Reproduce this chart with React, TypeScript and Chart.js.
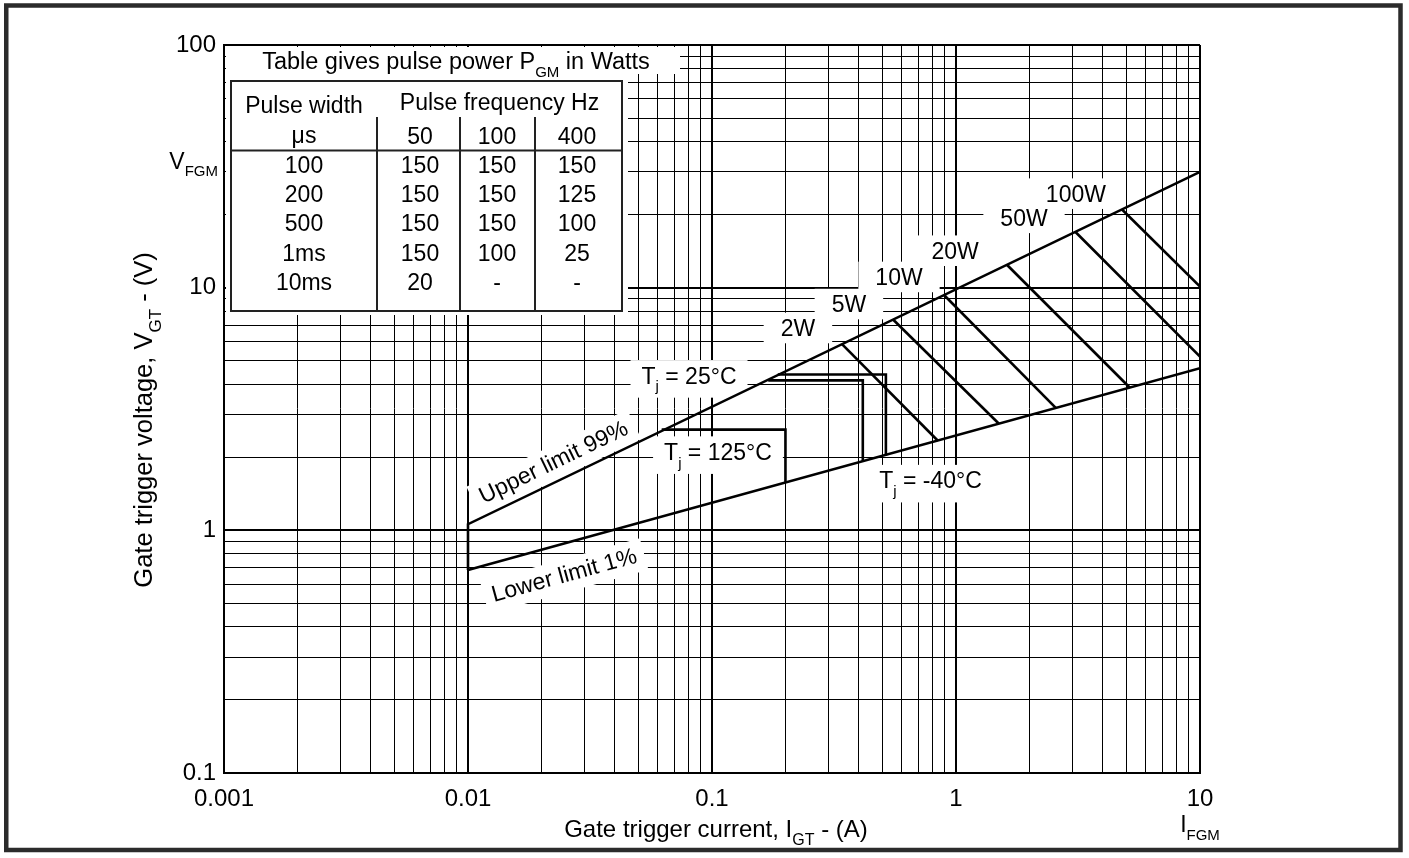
import React, { useEffect, useRef } from 'react';
import { Chart, registerables } from 'chart.js';

Chart.register(...registerables);

// ---------- axes ----------
const X_DECADES = [0.001, 0.01, 0.1, 1, 10];
const X_TICK_LABELS = ['0.001', '0.01', '0.1', '1', '10'];
const Y_DECADES = [0.1, 1, 10, 100];
const Y_TICK_LABELS = ['0.1', '1', '10', '100'];
const MINOR_STEPS = [2, 3, 4, 5, 6, 7, 8, 9];

// ---------- gate trigger limits (I in A, V in V) ----------
const UPPER_I = [0.01, 0.01, 10];
const UPPER_V = [0.686, 1.06, 30];
const LOWER_I = [0.01, 10];
const LOWER_V = [0.686, 4.66];

// ---------- temperature boxes ----------
const TJ125_I = [0.0622, 0.2, 0.2];
const TJ125_V = [2.6, 2.6, 1.57];
const TJ25_I = [0.17, 0.415, 0.415];
const TJ25_V = [4.15, 4.15, 1.92];
const TJM40_I = [0.186, 0.516, 0.516];
const TJM40_V = [4.39, 4.39, 2.03];

// ---------- pulse power lines ----------
const POWER_LABELS = ['2W', '5W', '10W', '20W', '50W', '100W'];
const POWER_I_START = [0.341, 0.552, 0.893, 1.62, 3.08, 4.79];
const POWER_V_START = [5.85, 7.39, 9.33, 12.4, 17.0, 21.0];
const POWER_I_END = [0.843, 1.5, 2.57, 5.16, 10, 10];
const POWER_V_END = [2.34, 2.75, 3.19, 3.87, 5.2, 10.1];
const POWER_LABEL_I = [0.225, 0.364, 0.584, 0.991, 1.9, 3.1];
const POWER_LABEL_V = [6.82, 8.56, 11.07, 14.2, 19.4, 24.4];

// ---------- annotation anchors (data coordinates) ----------
const TJ_LABELS = ['25°C', '125°C', '-40°C'];
const TJ_LABEL_I = [0.0805, 0.1058, 0.786];
const TJ_LABEL_V = [4.35, 2.11, 1.61];
const UPPER_LABEL = 'Upper limit 99%';
const UPPER_LABEL_AT = [0.0223, 1.93];
const LOWER_LABEL = 'Lower limit 1%';
const LOWER_LABEL_AT = [0.0247, 0.66];
const VFGM_LEVEL = 33;
const IFGM_LEVEL = 10;

// ---------- table ----------
const PULSE_WIDTHS = ['100', '200', '500', '1ms', '10ms'];
const PULSE_FREQS = ['50', '100', '400'];
const P_50HZ = ['150', '150', '150', '150', '20'];
const P_100HZ = ['150', '150', '150', '100', '-'];
const P_400HZ = ['150', '125', '100', '25', '-'];

const FAMILY = '"Liberation Sans", Arial, Helvetica, sans-serif';
const font = (s: number) => `${s}px ${FAMILY}`;

type Part = { t: string; sub?: boolean };

function richWidth(ctx: CanvasRenderingContext2D, parts: Part[], size: number) {
  let w = 0;
  parts.forEach((p) => {
    ctx.font = font(p.sub ? Math.round(size * 0.65) : size);
    w += ctx.measureText(p.t).width;
  });
  return w;
}

// y = baseline
function drawRich(
  ctx: CanvasRenderingContext2D,
  parts: Part[],
  x: number,
  y: number,
  size: number,
  align: 'left' | 'center' | 'right'
) {
  const total = richWidth(ctx, parts, size);
  let cx = align === 'left' ? x : align === 'center' ? x - total / 2 : x - total;
  ctx.textAlign = 'left';
  ctx.textBaseline = 'alphabetic';
  parts.forEach((p) => {
    const s = p.sub ? Math.round(size * 0.65) : size;
    ctx.font = font(s);
    ctx.fillText(p.t, cx, y + (p.sub ? size * 0.33 : 0));
    cx += ctx.measureText(p.t).width;
  });
  return total;
}

function boxedLabel(
  ctx: CanvasRenderingContext2D,
  parts: Part[],
  cx: number,
  cy: number,
  size: number,
  padX: number,
  padTop: number,
  padBottom: number,
  angle = 0
) {
  const w = richWidth(ctx, parts, size);
  const capH = size * 0.72;
  ctx.save();
  ctx.translate(cx, cy);
  ctx.rotate(-angle);
  ctx.fillStyle = '#fff';
  ctx.fillRect(-w / 2 - padX, -capH / 2 - padTop, w + 2 * padX, capH + padTop + padBottom);
  ctx.fillStyle = '#000';
  drawRich(ctx, parts, 0, capH / 2, size, 'center');
  ctx.restore();
}

const pts = (xs: number[], ys: number[]) => xs.map((x, i) => ({ x, y: ys[i] }));

const gridTicks = (decades: number[]) => {
  const out: { value: number; major: boolean }[] = [];
  decades.forEach((d, i) => {
    out.push({ value: d, major: true });
    if (i < decades.length - 1) {
      MINOR_STEPS.forEach((m) => out.push({ value: Number((d * m).toPrecision(6)), major: false }));
    }
  });
  return out;
};

const lineDs = (data: { x: number; y: number }[]) => ({
  data,
  borderColor: '#000',
  borderWidth: 2.6,
  pointRadius: 0,
  pointHoverRadius: 0,
  fill: false,
  tension: 0,
  borderCapStyle: 'butt' as const,
  borderJoinStyle: 'miter' as const,
});

const annotations = {
  id: 'annotations',
  beforeDraw(chart: any) {
    const ctx = chart.ctx as CanvasRenderingContext2D;
    ctx.save();
    ctx.fillStyle = '#fff';
    ctx.fillRect(0, 0, chart.width, chart.height);
    ctx.restore();
  },
  beforeDatasetsDraw(chart: any) {
    const ctx = chart.ctx as CanvasRenderingContext2D;
    const xs = chart.scales.x;
    const ys = chart.scales.y;
    const X = (v: number) => xs.getPixelForValue(v);
    const Y = (v: number) => ys.getPixelForValue(v);
    ctx.save();

    // ----- table with its title -----
    const TL = 231, TR = 622, TT = 81, TB = 311;
    const COLS = [377, 460, 535];
    const COL_TOP = 117;
    const RULE = 150.5;
    const CENTERS = [304, 420, 497, 577];
    ctx.fillStyle = '#fff';
    ctx.fillRect(226, 47, 680 - 226, 74 - 47);
    ctx.fillRect(226, 74, 628 - 226, 315 - 74);
    ctx.strokeStyle = '#222';
    ctx.lineWidth = 2;
    ctx.strokeRect(TL, TT, TR - TL, TB - TT);
    ctx.beginPath();
    COLS.forEach((c) => {
      ctx.moveTo(c, COL_TOP);
      ctx.lineTo(c, TB);
    });
    ctx.moveTo(TL, RULE);
    ctx.lineTo(TR, RULE);
    ctx.stroke();

    ctx.fillStyle = '#000';
    const S = 23;
    const base = (cy: number, s = S) => cy + s * 0.36;
    drawRich(ctx, [{ t: 'Table gives pulse power P' }, { t: 'GM', sub: true }, { t: ' in Watts' }], 456, base(61, 23.5), 23.5, 'center');
    drawRich(ctx, [{ t: 'Pulse width' }], CENTERS[0], base(105), S, 'center');
    drawRich(ctx, [{ t: 'Pulse frequency Hz' }], (COLS[0] + TR) / 2, base(102), S, 'center');
    drawRich(ctx, [{ t: 'μs' }], CENTERS[0], base(135), S, 'center');
    PULSE_FREQS.forEach((f, i) => drawRich(ctx, [{ t: f }], CENTERS[i + 1], base(136), S, 'center'));
    const ROWS = [165, 194, 223, 253, 282];
    ROWS.forEach((ry, r) => {
      drawRich(ctx, [{ t: PULSE_WIDTHS[r] }], CENTERS[0], base(ry), S, 'center');
      drawRich(ctx, [{ t: P_50HZ[r] }], CENTERS[1], base(ry), S, 'center');
      drawRich(ctx, [{ t: P_100HZ[r] }], CENTERS[2], base(ry), S, 'center');
      drawRich(ctx, [{ t: P_400HZ[r] }], CENTERS[3], base(ry), S, 'center');
    });

    // ----- power labels -----
    POWER_LABELS.forEach((lab, i) => {
      boxedLabel(ctx, [{ t: lab }], X(POWER_LABEL_I[i]), Y(POWER_LABEL_V[i]), S, 17, 7, 7);
    });

    // ----- junction temperature labels -----
    TJ_LABELS.forEach((lab, i) => {
      boxedLabel(
        ctx,
        [{ t: 'T' }, { t: 'j', sub: true }, { t: ' = ' + lab }],
        X(TJ_LABEL_I[i]),
        Y(TJ_LABEL_V[i]),
        S,
        11,
        7,
        14
      );
    });

    // ----- limit labels, rotated along the lines -----
    const ang = (i1: number, v1: number, i2: number, v2: number) =>
      Math.atan2(Y(v1) - Y(v2), X(i2) - X(i1));
    const upAng = ang(UPPER_I[1], UPPER_V[1], UPPER_I[2], UPPER_V[2]);
    const loAng = ang(LOWER_I[0], LOWER_V[0], LOWER_I[1], LOWER_V[1]);
    boxedLabel(ctx, [{ t: UPPER_LABEL }], X(UPPER_LABEL_AT[0]), Y(UPPER_LABEL_AT[1]), S, 8, 6, 10, upAng);
    boxedLabel(ctx, [{ t: LOWER_LABEL }], X(LOWER_LABEL_AT[0]), Y(LOWER_LABEL_AT[1]), S, 8, 6, 10, loAng);

    ctx.restore();
  },
  afterDraw(chart: any) {
    const ctx = chart.ctx as CanvasRenderingContext2D;
    const xs = chart.scales.x;
    const ys = chart.scales.y;
    const ca = chart.chartArea;
    ctx.save();
    ctx.fillStyle = '#000';
    const T = 24;
    // x title
    drawRich(ctx, [{ t: 'Gate trigger current, I' }, { t: 'GT', sub: true }, { t: ' - (A)' }], 716, 828 + T * 0.36, T, 'center');
    // y title
    const TY = 25.5;
    ctx.save();
    ctx.translate(143, 420);
    ctx.rotate(-Math.PI / 2);
    drawRich(ctx, [{ t: 'Gate trigger voltage, V' }, { t: 'GT', sub: true }, { t: ' - (V)' }], 0, TY * 0.36, TY, 'center');
    ctx.restore();
    // V_FGM and I_FGM
    drawRich(ctx, [{ t: 'V' }, { t: 'FGM', sub: true }], ca.left - 6, ys.getPixelForValue(VFGM_LEVEL) + 7, 23, 'right');
    drawRich(ctx, [{ t: 'I' }, { t: 'FGM', sub: true }], xs.getPixelForValue(IFGM_LEVEL), 832, 23, 'center');

    // outer frame
    ctx.strokeStyle = '#2b2b2b';
    ctx.lineWidth = 4.5;
    ctx.strokeRect(6.25, 5.5, 1394.25, 844.5);
    ctx.restore();
  },
};

export default function App() {
  const ref = useRef<HTMLCanvasElement>(null);

  useEffect(() => {
    const datasets: any[] = [
      lineDs(pts(UPPER_I, UPPER_V)),
      lineDs(pts(LOWER_I, LOWER_V)),
      lineDs(pts(TJ125_I, TJ125_V)),
      lineDs(pts(TJ25_I, TJ25_V)),
      lineDs(pts(TJM40_I, TJM40_V)),
      ...POWER_LABELS.map((_, i) =>
        lineDs([
          { x: POWER_I_START[i], y: POWER_V_START[i] },
          { x: POWER_I_END[i], y: POWER_V_END[i] },
        ])
      ),
    ];

    const gridWidth = (c: any) => (c.tick && c.tick.major ? 2 : 1);

    const chart = new Chart(ref.current as HTMLCanvasElement, {
      type: 'line',
      data: { datasets },
      plugins: [annotations],
      options: {
        responsive: false,
        animation: false,
        devicePixelRatio: 1,
        events: [],
        layout: { padding: { left: 0, top: 45, right: 209, bottom: 0 } },
        plugins: { legend: { display: false }, tooltip: { enabled: false } },
        scales: {
          x: {
            type: 'logarithmic',
            position: 'bottom',
            min: 0.001,
            max: 10,
            afterBuildTicks: (s: any) => {
              s.ticks = gridTicks(X_DECADES);
            },
            afterFit: (s: any) => {
              s.height = 85;
            },
            grid: { color: '#000', lineWidth: gridWidth, drawTicks: false },
            border: { display: true, color: '#000', width: 2 },
            ticks: {
              autoSkip: false,
              maxRotation: 0,
              minRotation: 0,
              padding: 12,
              color: '#000',
              font: { family: FAMILY, size: 24 },
              callback: (v: any) => {
                const i = X_DECADES.indexOf(Number(v));
                return i >= 0 ? X_TICK_LABELS[i] : '';
              },
            },
          },
          y: {
            type: 'logarithmic',
            position: 'left',
            min: 0.1,
            max: 100,
            afterBuildTicks: (s: any) => {
              s.ticks = gridTicks(Y_DECADES);
            },
            afterFit: (s: any) => {
              s.width = 224;
            },
            grid: { color: '#000', lineWidth: gridWidth, drawTicks: false },
            border: { display: true, color: '#000', width: 2 },
            ticks: {
              autoSkip: false,
              padding: 8,
              color: '#000',
              font: { family: FAMILY, size: 24 },
              callback: (v: any) => {
                const i = Y_DECADES.indexOf(Number(v));
                return i >= 0 ? Y_TICK_LABELS[i] : '';
              },
            },
          },
        },
      } as any,
    });
    return () => chart.destroy();
  }, []);

  return (
    <div style={{ position: 'fixed', left: 0, top: 0, width: 1409, height: 858, background: '#fff' }}>
      <canvas ref={ref} width={1409} height={858} style={{ display: 'block', width: 1409, height: 858 }} />
    </div>
  );
}
